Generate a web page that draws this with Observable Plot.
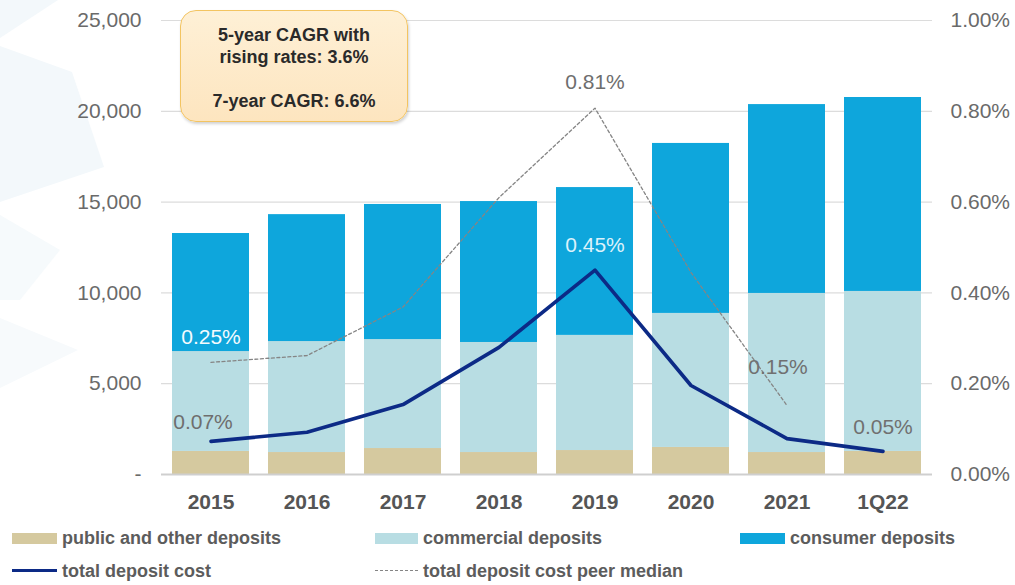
<!DOCTYPE html>
<html>
<head>
<meta charset="utf-8">
<script src="https://cdn.jsdelivr.net/npm/d3@7"></script>
<script src="https://cdn.jsdelivr.net/npm/@observablehq/plot@0.6"></script>
<style>
  html, body { margin: 0; padding: 0; background: #fff; }
  body { font-family: "Liberation Sans", Arial, sans-serif; }
  #wrap { position: relative; width: 1015px; height: 585px; overflow: hidden; background: #fff; }
  #bg { position: absolute; left: 0; top: 0; }
  #chart { position: absolute; left: 0; top: 0; }
  #callout {
    position: absolute; left: 180px; top: 10px; width: 228px; height: 112px;
    box-sizing: border-box; border: 1.5px solid #f3c461; border-radius: 16px;
    background: linear-gradient(#fef0d6, #fde5bf);
    box-shadow: 1px 2px 3px rgba(0,0,0,0.18);
    text-align: center; font-weight: bold; font-size: 18px; line-height: 22px;
    color: #2a2a2a; padding-top: 13px;
  }
  .leg { position: absolute; font-weight: bold; font-size: 18px; color: #5c5c5c; line-height: 22px; white-space: nowrap; }
  .sw { position: absolute; height: 11px; }
  .ln { position: absolute; height: 0; }
</style>
</head>
<body>
<div id="wrap">
  <svg id="bg" width="1015" height="585">
    <polygon points="0,0 58,0 0,38" fill="#f3f8fb"/>
    <polygon points="0,46 72,72 104,167 0,202" fill="#f3f8fb"/>
    <polygon points="0,215 60,250 20,300 0,300" fill="#f6fafc"/>
    <polygon points="0,318 78,350 0,388" fill="#f7fafc"/>
  </svg>
  <div id="chart"></div>
  <div id="callout">5-year CAGR with<br>rising rates: 3.6%<br><br>7-year CAGR: 6.6%</div>
  <div id="legend"></div>
</div>
<script>
// ---- data ----
const years = ["2015", "2016", "2017", "2018", "2019", "2020", "2021", "1Q22"];
const publicDeposits     = [1270, 1210, 1430, 1210, 1320, 1490, 1210, 1270];
const commercialDeposits = [5500, 6110, 6000, 6060, 6340, 7380, 8760, 8810];
const consumerDeposits   = [6500, 6990, 7440, 7760, 8140, 9360, 10400, 10680];
const totalDepositCost   = [0.073, 0.093, 0.154, 0.28, 0.45, 0.196, 0.079, 0.051]; // %
const peerMedianCost     = [0.247, 0.262, 0.369, 0.61, 0.807, 0.445, 0.152, null];  // %
const leftTicks  = [0, 5000, 10000, 15000, 20000, 25000];
const rightTicks = [0, 0.2, 0.4, 0.6, 0.8, 1.0]; // %
const costLabelYears = ["2015", "2019", "1Q22"];
const peerLabelYears = ["2015", "2019", "2021"];
const seriesNames = ["public and other deposits", "commercial deposits", "consumer deposits"];
const seriesColors = ["#d5c99f", "#b8dde3", "#0ea6dc"];
const costColor = "#0c2a86";
const peerColor = "#858585";

// 1.00% on the right axis lines up with 25,000 on the left axis
const PCT_UNIT = 25000;

const bars = years.flatMap((y, i) => [
  {year: y, type: seriesNames[0], value: publicDeposits[i]},
  {year: y, type: seriesNames[1], value: commercialDeposits[i]},
  {year: y, type: seriesNames[2], value: consumerDeposits[i]}
]);
const cost = years.map((y, i) => ({year: y, p: totalDepositCost[i], v: totalDepositCost[i] * PCT_UNIT}));
const peer = years.map((y, i) => ({year: y, p: peerMedianCost[i], v: peerMedianCost[i] == null ? null : peerMedianCost[i] * PCT_UNIT}))
                  .filter(d => d.p != null);
const pctFmt = d => d.p.toFixed(2) + "%";
const pick = (arr, ys) => arr.filter(d => ys.includes(d.year));

const costLab = pick(cost, costLabelYears);
const peerLab = pick(peer, peerLabelYears);

const labelFont = {fontSize: 21, fontFamily: "Liberation Sans, Arial, sans-serif"};

const chart = Plot.plot({
  width: 1015,
  height: 515,
  marginTop: 20,
  marginBottom: 41,
  marginLeft: 161,
  marginRight: 83,
  style: {background: "none", fontFamily: "Liberation Sans, Arial, sans-serif", color: "#6a6a6a"},
  x: {domain: years, paddingInner: 0.2, paddingOuter: 0.094, axis: null, label: null},
  y: {domain: [0, 25000], axis: null, label: null},
  color: {domain: seriesNames, range: seriesColors},
  marks: [
    Plot.ruleY(leftTicks.slice(1), {stroke: "#dcdcdc", strokeWidth: 1.2}),
    Plot.barY(bars, {x: "year", y: "value", fill: "type", order: seriesNames}),
    Plot.ruleY([0], {stroke: "#cfcfcf", strokeWidth: 1.8}),
    Plot.line(peer, {x: "year", y: "v", stroke: peerColor, strokeWidth: 1.3, strokeDasharray: "3,2.5"}),
    Plot.line(cost, {x: "year", y: "v", stroke: costColor, strokeWidth: 3.6, strokeLinejoin: "round", strokeLinecap: "round"}),
    // value labels
    Plot.text(peerLab.filter(d => d.year === "2015"), {x: "year", y: "v", text: pctFmt, dy: -25, fill: "#f4fbfe", ...labelFont}),
    Plot.text(peerLab.filter(d => d.year === "2019"), {x: "year", y: "v", text: pctFmt, dy: -26, fill: "#6e6e6e", ...labelFont}),
    Plot.text(peerLab.filter(d => d.year === "2021"), {x: "year", y: "v", text: pctFmt, dx: -9, dy: -38, fill: "#707070", ...labelFont}),
    Plot.text(costLab.filter(d => d.year === "2015"), {x: "year", y: "v", text: pctFmt, dx: -8, dy: -19, fill: "#6e6e6e", ...labelFont}),
    Plot.text(costLab.filter(d => d.year === "2019"), {x: "year", y: "v", text: pctFmt, dy: -25, fill: "#dcf2fb", ...labelFont}),
    Plot.text(costLab.filter(d => d.year === "1Q22"), {x: "year", y: "v", text: pctFmt, dy: -24, fill: "#707070", ...labelFont}),
    // axes
    Plot.axisY({anchor: "left", ticks: leftTicks, tickSize: 0, tickPadding: 20, fontSize: 21, label: null,
      tickFormat: d => d === 0 ? "-" : d3.format(",")(d)}),
    Plot.axisY({anchor: "right", ticks: rightTicks.map(p => p * PCT_UNIT), tickSize: 0, tickPadding: 18, fontSize: 21, label: null,
      tickFormat: d => (d / PCT_UNIT).toFixed(2) + "%"}),
    Plot.axisX({anchor: "bottom", tickSize: 0, tickPadding: 20, fontSize: 21, fontWeight: "bold", fill: "#555", label: null})
  ]
});
document.getElementById("chart").appendChild(chart);

// ---- legend ----
const legend = document.getElementById("legend");
const legendItems = [
  {kind: "swatch", color: seriesColors[0], label: seriesNames[0], x: 12, w: 45, row: 0},
  {kind: "swatch", color: seriesColors[1], label: seriesNames[1], x: 375, w: 43, row: 0},
  {kind: "swatch", color: seriesColors[2], label: seriesNames[2], x: 740, w: 45, row: 0},
  {kind: "line", color: costColor, label: "total deposit cost", x: 12, w: 45, row: 1, style: "solid", width: 3.5},
  {kind: "line", color: peerColor, label: "total deposit cost peer median", x: 375, w: 43, row: 1, style: "dashed", width: 1.3}
];
const rowCenters = [538, 571];
legendItems.forEach(it => {
  const cy = rowCenters[it.row];
  const mark = document.createElement("div");
  if (it.kind === "swatch") {
    mark.className = "sw";
    mark.style.left = it.x + "px"; mark.style.top = (cy - 5.5) + "px";
    mark.style.width = it.w + "px"; mark.style.background = it.color;
  } else {
    mark.className = "ln";
    mark.style.left = it.x + "px"; mark.style.top = (cy - it.width / 2) + "px";
    mark.style.width = it.w + "px";
    mark.style.borderTop = it.width + "px " + it.style + " " + it.color;
  }
  legend.appendChild(mark);
  const t = document.createElement("div");
  t.className = "leg";
  t.textContent = it.label;
  t.style.left = (it.x + it.w + 5) + "px";
  t.style.top = (cy - 11) + "px";
  legend.appendChild(t);
});
</script>
</body>
</html>
